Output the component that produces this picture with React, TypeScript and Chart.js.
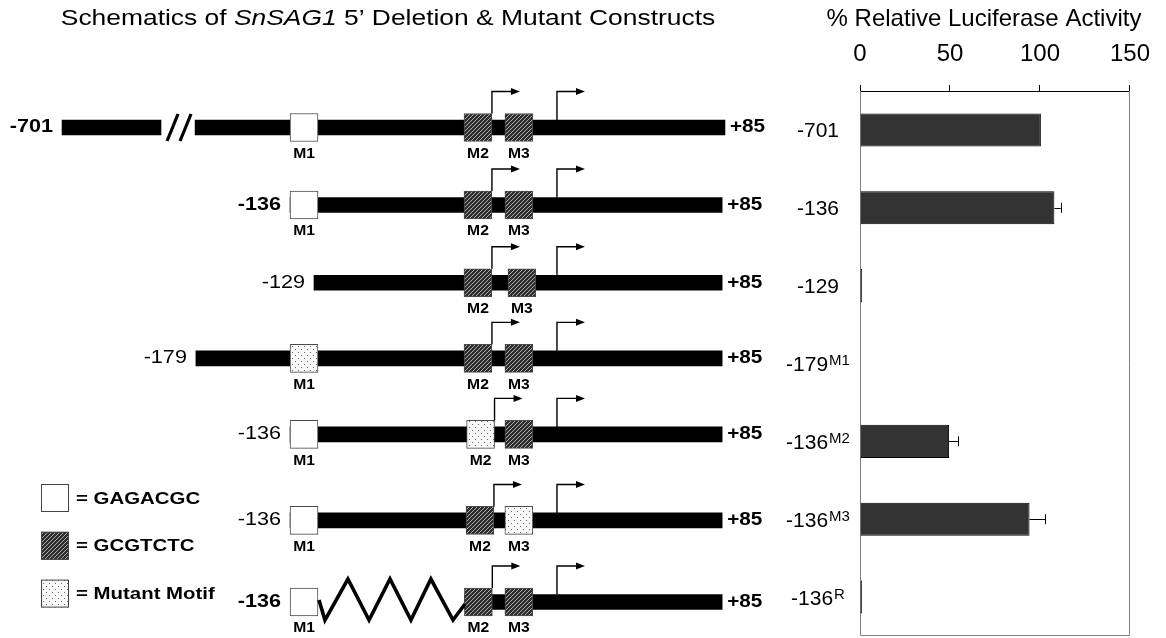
import React, { useEffect, useRef } from "react";
import { Chart, registerables } from "chart.js";
Chart.register(...registerables);

const FONT = "'Liberation Sans', Arial, Helvetica, sans-serif";

// ---------------- bar chart data ----------------
const constructNames = ["-701", "-136", "-129", "-179", "-136", "-136", "-136"];
const constructSup = ["", "", "", "M1", "M2", "M3", "R"];
const activity = [100.5, 108, 1.2, 0.3, 49.5, 94.2, 1.2];
const activityErr = [0, 3.5, 0, 0, 5, 8.8, 0];
const activityTicks = [0, 50, 100, 150];
const barTitle = "% Relative Luciferase Activity";

// ---------------- schematic data (promoter coordinates, schematic units) ----------------
const rowPos = [0, 1, 2.003, 2.979, 3.96, 5.07, 6.123];
const lineStart = [-179.2, -131.6, -119.6, -178.8, -131.6, -131.6, -44.2];
const lineEnd = [86.4, 85, 85, 85, 85, 85, 85];
const endLabel = "+85";
const farSegment = [-245.9, -196.3];
const breakMarks = [-190.5, -184];
const m1Pos = [-131.6, -131.6, null, -131.6, -131.6, -131.6, -131.6];
const m2Pos = [-44.4, -44.4, -44.4, -44.4, -43.1, -43.4, -44.2];
const m3Pos = [-23.9, -23.9, -22.4, -23.9, -23.9, -23.9, -23.9];
const m1Kind = ["open", "open", null, "mutant", "open", "open", "open"];
const m2Kind = ["hatched", "hatched", "hatched", "hatched", "mutant", "hatched", "hatched"];
const m3Kind = ["hatched", "hatched", "hatched", "hatched", "hatched", "mutant", "hatched"];
const motifWidth = 14;
const tssPos = 2.2;
const zigzagX = [-117.1, -114.1, -102.6, -92.0, -81.5, -71.0, -61.0, -49.9, -43.9];
const zigzagRow = 6;
const legendKinds = ["open", "hatched", "mutant"];
const legendTexts = ["= GAGACGC", "= GCGTCTC", "= Mutant Motif"];
const rowBold = [true, true, false, false, false, false, true];

function makeHatch() {
  const c = document.createElement("canvas");
  c.width = 4;
  c.height = 4;
  const g = c.getContext("2d")!;
  g.fillStyle = "#2e2e2e";
  g.fillRect(0, 0, 4, 4);
  g.strokeStyle = "#ababab";
  g.lineWidth = 1;
  g.beginPath();
  g.moveTo(0, 4); g.lineTo(4, 0);
  g.moveTo(-2, 2); g.lineTo(2, -2);
  g.moveTo(2, 6); g.lineTo(6, 2);
  g.stroke();
  return g.createPattern(c, "repeat")!;
}

function makeDots() {
  const c = document.createElement("canvas");
  c.width = 6;
  c.height = 6;
  const g = c.getContext("2d")!;
  g.fillStyle = "#f8f8f8";
  g.fillRect(0, 0, 6, 6);
  g.fillStyle = "#6a6a6a";
  g.fillRect(1, 1, 1, 1);
  g.fillRect(4, 4, 1, 1);
  return g.createPattern(c, "repeat")!;
}

function stretchText(ctx: CanvasRenderingContext2D, text: string, x: number, y: number, align: string, sx: number) {
  ctx.save();
  const w = ctx.measureText(text).width * sx;
  const left = align === "left" ? x : align === "right" ? x - w : x - w / 2;
  ctx.translate(left, y);
  ctx.scale(sx, 1);
  ctx.textAlign = "left";
  ctx.fillText(text, 0, 0);
  ctx.restore();
}

export default function App() {
  const leftRef = useRef<HTMLCanvasElement>(null);
  const rightRef = useRef<HTMLCanvasElement>(null);

  useEffect(() => {
    const hatch = makeHatch();
    const dots = makeDots();
    const fillFor = (k: any) => (k === "hatched" ? hatch : k === "mutant" ? dots : "#ffffff");
    const SX = 1.2;

    const motifData = (pos: any[], kind: any[]) =>
      rowPos
        .map((y, i) => (pos[i] == null ? null : { x: [pos[i], pos[i] + motifWidth], y, kind: kind[i] }))
        .filter(Boolean);

    const schematicPlugin = {
      id: "schematic",
      afterDatasetsDraw(chart: any) {
        const ctx: CanvasRenderingContext2D = chart.ctx;
        const X = (v: number) => chart.scales.x.getPixelForValue(v);
        const Y = (v: number) => chart.scales.y.getPixelForValue(v);
        ctx.save();
        ctx.fillStyle = "#000";
        ctx.strokeStyle = "#000";
        ctx.textBaseline = "middle";

        // title
        const parts: [string, string][] = [
          ["Schematics of ", ""],
          ["SnSAG1", "italic "],
          [" 5\u2019 Deletion & Mutant Constructs", ""],
        ];
        let total = 0;
        parts.forEach(([t, st]) => {
          ctx.font = `${st}22px ${FONT}`;
          total += ctx.measureText(t).width * SX;
        });
        let tx = chart.width / 2 - 2 - total / 2;
        parts.forEach(([t, st]) => {
          ctx.font = `${st}22px ${FONT}`;
          stretchText(ctx, t, tx, 19, "left", SX);
          tx += ctx.measureText(t).width * SX;
        });

        rowPos.forEach((r, i) => {
          const cy = Y(r);
          if (i === 0) {
            ctx.lineWidth = 3.2;
            breakMarks.forEach((b) => {
              ctx.beginPath();
              ctx.moveTo(X(b) - 5.5, cy + 13.5);
              ctx.lineTo(X(b) + 5.5, cy - 13.5);
              ctx.stroke();
            });
          }
          if (i === zigzagRow) {
            ctx.lineWidth = 3.6;
            ctx.lineJoin = "miter";
            ctx.beginPath();
            zigzagX.forEach((v, k) => {
              const dy = k === 0 ? -2 : k === zigzagX.length - 1 ? 2 : k % 2 === 1 ? 18 : -23;
              if (k === 0) ctx.moveTo(X(v), cy + dy);
              else ctx.lineTo(X(v), cy + dy);
            });
            ctx.stroke();
          }
          const first = i === 0 ? farSegment[0] : Math.min(lineStart[i], m1Pos[i] == null ? Infinity : (m1Pos[i] as number));
          ctx.font = `${rowBold[i] ? "bold " : ""}18px ${FONT}`;
          stretchText(ctx, constructNames[i], X(first) - 9, cy, "right", SX);
          ctx.font = `bold 18px ${FONT}`;
          stretchText(ctx, endLabel, X(lineEnd[i]) + 5, cy, "left", 1.15);
          ctx.font = `bold 14px ${FONT}`;
          ([[m1Pos, "M1"], [m2Pos, "M2"], [m3Pos, "M3"]] as any[]).forEach(([p, l]) => {
            if (p[i] != null) stretchText(ctx, l, X(p[i] + motifWidth / 2), cy + 26.5, "center", 1.12);
          });
          const arrow = (x: number, yFrom: number) => {
            const yTop = cy - 36;
            ctx.lineWidth = 1.4;
            ctx.beginPath();
            ctx.moveTo(x, yFrom);
            ctx.lineTo(x, yTop);
            ctx.lineTo(x + 20, yTop);
            ctx.stroke();
            ctx.beginPath();
            ctx.moveTo(x + 28, yTop);
            ctx.lineTo(x + 19, yTop - 3.5);
            ctx.lineTo(x + 19, yTop + 3.5);
            ctx.closePath();
            ctx.fill();
          };
          arrow(X(m2Pos[i] + motifWidth), cy - 14);
          arrow(X(tssPos), cy - 7.5);
        });

        legendKinds.forEach((k, j) => {
          const cy = 498 + j * 47.8;
          ctx.fillStyle = fillFor(k) as any;
          ctx.fillRect(41, cy - 14, 28, 28);
          ctx.strokeStyle = "#444";
          ctx.lineWidth = 1;
          ctx.strokeRect(41.5, cy - 13.5, 27, 27);
          ctx.fillStyle = "#000";
          ctx.font = `bold 17px ${FONT}`;
          stretchText(ctx, legendTexts[j], 76, cy + 1, "left", SX);
        });
        ctx.restore();
      },
    };

    const left = new Chart(leftRef.current!, {
      type: "bar",
      data: {
        datasets: [
          { label: "M1", data: motifData(m1Pos, m1Kind) as any, backgroundColor: (c: any) => fillFor(c.raw && c.raw.kind), borderColor: "#4a4a4a", borderWidth: 1, borderSkipped: false, barThickness: 28, grouped: false, order: 0 } as any,
          { label: "M2", data: motifData(m2Pos, m2Kind) as any, backgroundColor: (c: any) => fillFor(c.raw && c.raw.kind), borderColor: "#4a4a4a", borderWidth: 1, borderSkipped: false, barThickness: 28, grouped: false, order: 0 } as any,
          { label: "M3", data: motifData(m3Pos, m3Kind) as any, backgroundColor: (c: any) => fillFor(c.raw && c.raw.kind), borderColor: "#4a4a4a", borderWidth: 1, borderSkipped: false, barThickness: 28, grouped: false, order: 0 } as any,
          { label: "promoter", data: rowPos.map((y, i) => ({ x: [lineStart[i], lineEnd[i]], y })) as any, backgroundColor: "#000", borderWidth: 0, barThickness: 15, grouped: false, order: 1 } as any,
          { label: "distal", data: [{ x: farSegment, y: rowPos[0] }] as any, backgroundColor: "#000", borderWidth: 0, barThickness: 15, grouped: false, order: 1 } as any,
        ],
      },
      options: {
        indexAxis: "y",
        responsive: false,
        animation: false,
        devicePixelRatio: 1,
        events: [],
        layout: { padding: 0 },
        scales: {
          x: { type: "linear", min: -277, max: 114, display: false, offset: false },
          y: { type: "linear", min: -1.645, max: 6.587, reverse: true, display: false, offset: false },
        },
        plugins: { legend: { display: false }, tooltip: { enabled: false } },
      } as any,
      plugins: [schematicPlugin],
    });

    const barPlugin = {
      id: "barDecor",
      beforeDatasetsDraw(chart: any) {
        const ctx: CanvasRenderingContext2D = chart.ctx;
        const a = chart.chartArea;
        ctx.save();
        ctx.strokeStyle = "#808080";
        ctx.lineWidth = 1;
        ctx.beginPath();
        ctx.moveTo(a.left + 0.5, a.top);
        ctx.lineTo(a.left + 0.5, a.bottom - 0.5);
        ctx.lineTo(a.right - 0.5, a.bottom - 0.5);
        ctx.lineTo(a.right - 0.5, a.top);
        ctx.stroke();
        ctx.restore();
      },
      afterDatasetsDraw(chart: any) {
        const ctx: CanvasRenderingContext2D = chart.ctx;
        const a = chart.chartArea;
        const xs = chart.scales.x;
        const ys = chart.scales.y;
        ctx.save();
        ctx.strokeStyle = "#000";
        ctx.fillStyle = "#000";
        ctx.lineWidth = 1;
        activity.forEach((v, i) => {
          const cy = ys.getPixelForValue(i);
          if (activityErr[i] > 0) {
            const x0 = xs.getPixelForValue(v);
            const x1 = xs.getPixelForValue(v + activityErr[i]);
            ctx.beginPath();
            ctx.moveTo(x0, Math.round(cy) + 0.5);
            ctx.lineTo(x1, Math.round(cy) + 0.5);
            ctx.moveTo(Math.round(x1) + 0.5, cy - 5);
            ctx.lineTo(Math.round(x1) + 0.5, cy + 5);
            ctx.stroke();
          }
          ctx.font = `21px ${FONT}`;
          const wb = ctx.measureText(constructNames[i]).width;
          ctx.font = `15px ${FONT}`;
          const ws = constructSup[i] ? ctx.measureText(constructSup[i]).width + 1 : 0;
          const cx = a.left - 42;
          const start = cx - (wb + ws) / 2;
          ctx.textAlign = "left";
          ctx.textBaseline = "alphabetic";
          ctx.font = `21px ${FONT}`;
          ctx.fillText(constructNames[i], start, cy + 7.5);
          if (constructSup[i]) {
            ctx.font = `15px ${FONT}`;
            ctx.fillText(constructSup[i], start + wb + 1, cy + 1.5);
          }
        });
        ctx.font = `24px ${FONT}`;
        ctx.textAlign = "center";
        ctx.textBaseline = "alphabetic";
        ctx.fillText(barTitle, (a.left + a.right) / 2 - 11, 26);
        ctx.restore();
      },
    };

    const right = new Chart(rightRef.current!, {
      type: "bar",
      data: {
        labels: constructNames.map((n, i) => n + constructSup[i]),
        datasets: [
          {
            label: barTitle,
            data: activity,
            backgroundColor: "#333333",
            borderColor: "#000",
            borderWidth: 1,
            categoryPercentage: 0.85,
            barPercentage: 0.5,
          },
        ],
      },
      options: {
        indexAxis: "y",
        responsive: false,
        animation: false,
        devicePixelRatio: 1,
        events: [],
        layout: { padding: { left: 84, right: 31, bottom: 2, top: 0 } },
        scales: {
          x: {
            position: "top",
            min: 0,
            max: 150,
            afterBuildTicks: (s: any) => {
              s.ticks = activityTicks.map((v) => ({ value: v }));
            },
            afterFit: (s: any) => {
              s.height = 91;
            },
            ticks: { font: { family: FONT, size: 24 }, color: "#000", padding: 16, maxRotation: 0 },
            grid: { drawOnChartArea: false, drawTicks: true, tickLength: 6, color: "#000" },
            border: { color: "#000", width: 1 },
          },
          y: { display: false },
        },
        plugins: { legend: { display: false }, tooltip: { enabled: false } },
      } as any,
      plugins: [barPlugin],
    });

    return () => {
      left.destroy();
      right.destroy();
    };
  }, []);

  return (
    <div style={{ position: "absolute", left: 0, top: 0, width: 1166, height: 638, background: "#fff", overflow: "hidden" }}>
      <canvas ref={leftRef} width={780} height={638} style={{ position: "absolute", left: 0, top: 0 }} />
      <canvas ref={rightRef} width={390} height={638} style={{ position: "absolute", left: 776, top: 0 }} />
    </div>
  );
}
